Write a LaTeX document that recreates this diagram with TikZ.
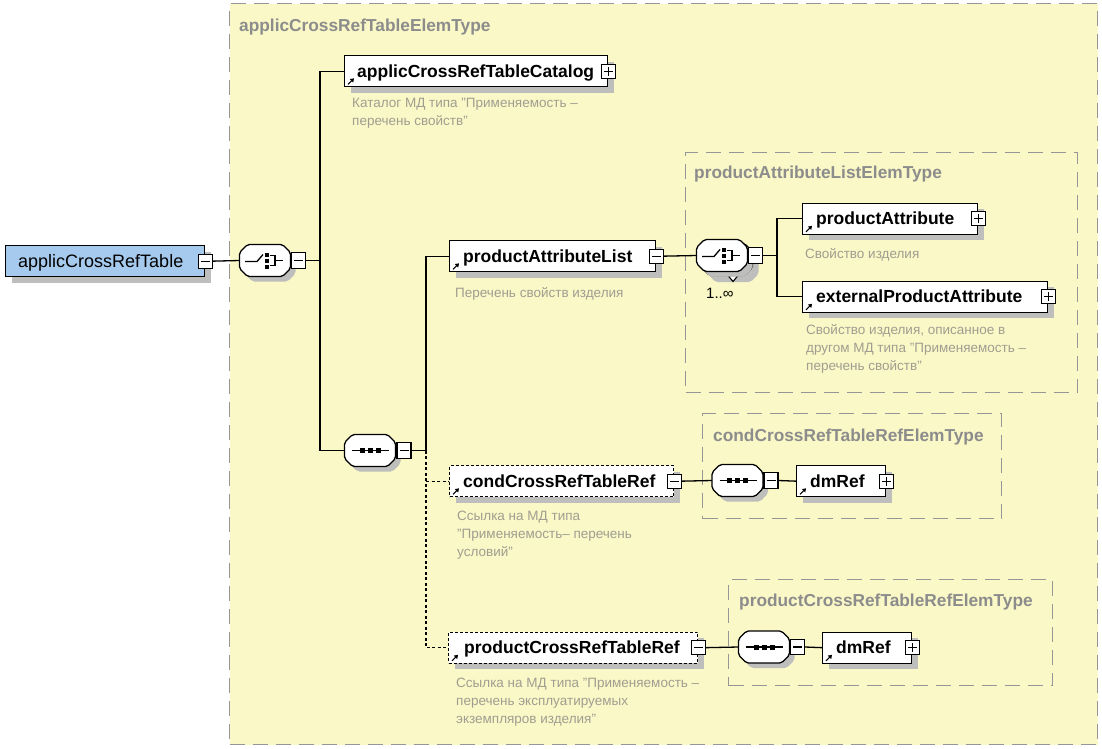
\documentclass[tikz,border=0pt]{standalone}
\usepackage{fontspec}
\setmainfont{Liberation Sans}
\usetikzlibrary{calc,arrows.meta}
\definecolor{yel}{RGB}{250,248,198}
\definecolor{rootblue}{RGB}{166,202,238}
\definecolor{shadowc}{RGB}{190,190,188}
\definecolor{typegray}{RGB}{140,140,140}
\definecolor{descgray}{RGB}{160,157,145}
\definecolor{typeframe}{RGB}{150,150,150}

\newcommand\octshape[3]{\path[#1] ({#2-17.5},{#3-16}) -- ({#2+17.5},{#3-16}) -- ({#2+25.5},{#3-8}) -- ({#2+25.5},{#3+8}) -- ({#2+17.5},{#3+16}) -- ({#2-17.5},{#3+16}) -- ({#2-25.5},{#3+8}) -- ({#2-25.5},{#3-8}) -- cycle;}
\newcommand\compositor[3]{%
  \octshape{fill=shadowc,rounded corners=2pt}{#2+5}{#3+5}
  \octshape{draw=black,fill=white,line width=1.3pt,rounded corners=2pt}{#2}{#3}
  \node[compnode] (#1) at (#2,#3) {};}
\newcommand\seqicon[2]{%
  \draw[line width=1.3pt] ({#1-18},#2) -- ({#1+19},#2);
  \foreach \dx in {-8,0,8} \fill ({#1+\dx-2.5},{#2-2.5}) rectangle ++(5,5);}
\newcommand\choiceicon[2]{%
  \draw[line width=1.3pt] ({#1-20},{#2+1}) -- ({#1-8},{#2+1}) -- ({#1-2},{#2-6});
  \foreach \dy in {-6,0,6} \fill ({#1+0.3},{#2+\dy-2}) rectangle ++(4,4);
  \draw[line width=1.3pt] ({#1+5},{#2-5}) -- ({#1+10},{#2-5}) -- ({#1+10},{#2+5}) -- ({#1+5},{#2+5}) ({#1+10},#2) -- ({#1+18},#2);}
\newcommand\refarr[1]{\draw[line width=1.1pt,-{Triangle[length=3.5pt,width=4.5pt]}] ($(#1.south west)+(4,-3)$) -- ($(#1.south west)+(10,-9)$);}

\begin{document}
\begin{tikzpicture}[x=1pt,y=-1pt,
  elem/.style={draw=black, fill=white, line width=1.3pt, inner sep=0pt, anchor=north west, minimum height=31pt,
    preaction={draw=none, fill=shadowc, transform canvas={shift={(6pt,-6pt)}}}},
  optelem/.style={elem, dash pattern=on 3pt off 2pt},
  rootel/.style={elem, fill=rootblue},
  compnode/.style={draw=none, minimum width=51pt, minimum height=32pt, inner sep=0pt},
  ellbl/.style={font=\fontsize{17.5}{20}\selectfont\bfseries, anchor=base west, inner sep=0pt},
  rootlbl/.style={font=\fontsize{18}{20}\selectfont, anchor=base west, inner sep=0pt},
  desc/.style={font=\fontsize{13.5}{18}\selectfont, text=descgray, anchor=base west, inner sep=0pt},
  typelbl/.style={font=\fontsize{17.3}{20}\selectfont\bfseries, text=typegray, anchor=base west, inner sep=0pt},
  typebox/.style={draw=typeframe, line width=1.4pt, dash pattern=on 15pt off 8pt, anchor=north west, inner sep=0pt},
  pmbox/.style={draw=black, fill=white, line width=1.2pt, minimum width=14pt, minimum height=14pt, inner sep=0pt},
  minusbox/.style={pmbox, path picture={\draw[line width=1.2pt] ([xshift=2.5pt]path picture bounding box.west) -- ([xshift=-2.5pt]path picture bounding box.east);}},
  plusbox/.style={pmbox, path picture={\draw[line width=1.2pt] ([xshift=2.5pt]path picture bounding box.west) -- ([xshift=-2.5pt]path picture bounding box.east) ([yshift=2.5pt]path picture bounding box.south) -- ([yshift=-2.5pt]path picture bounding box.north);}},
  cminusbox/.style={minusbox, minimum height=15.5pt},
  conn/.style={line width=1.3pt},
  optconn/.style={line width=1.3pt, dash pattern=on 3pt off 2.5pt}
]
\useasboundingbox (0,0) rectangle (1102,748);
\fill[white] (0,0) rectangle (1102,748);

% type frames
\node[typebox, fill=yel, minimum width=868pt, minimum height=741pt] (outer) at (229,3) {};
\node[typelbl] (outerl) at (239,31) {applicCrossRefTableElemType};
\node[typebox, minimum width=392pt, minimum height=240pt] (pale) at (685,152) {};
\node[typelbl] (palel) at (694,178) {productAttributeListElemType};
\node[typebox, minimum width=299pt, minimum height=105pt] (cct) at (702,413) {};
\node[typelbl] (cctl) at (713,441) {condCrossRefTableRefElemType};
\node[typebox, minimum width=324pt, minimum height=106pt] (pct) at (728,579) {};
\node[typelbl] (pctl) at (739,606) {productCrossRefTableRefElemType};

% root
\node[rootel, minimum width=199pt] (root) at (5,245) {};
\node[rootlbl] (roott) at ($(root.west)+(13,6)$) {applicCrossRefTable};
\node[minusbox] (rootm) at (root.east) {};

% choice 1
\compositor{ch1}{265}{260.5}
\choiceicon{265}{260.5}
\node[cminusbox] (ch1m) at (298.5,260.5) {};

% catalog
\node[elem, minimum width=263pt] (cat) at (344,55) {};
\node[ellbl] (catt) at ($(cat.west)+(13,6)$) {applicCrossRefTableCatalog};
\node[plusbox] (catp) at (cat.east) {};
\refarr{cat}
\node[desc] (catd1) at (352,107) {Каталог МД типа "Применяемость –};
\node[desc] (catd2) at (352,125) {перечень свойств"};

% sequence 1
\compositor{seq1}{370}{450.5}
\seqicon{370}{450.5}
\node[cminusbox] (seq1m) at (404,450.5) {};

% productAttributeList
\node[elem, minimum width=206pt] (pal) at (449,240) {};
\node[ellbl] (palt) at ($(pal.west)+(14,6)$) {productAttributeList};
\node[minusbox] (palm) at (pal.east) {};
\refarr{pal}
\node[desc] (pald1) at (455,297) {Перечень свойств изделия};

% choice 2 (1..inf)
\octshape{fill=shadowc,rounded corners=2pt}{733}{266}
\octshape{draw=black,fill=white,line width=1.3pt,rounded corners=2pt}{727}{259.5}
\draw[line width=1.1pt, fill=white] (728,275.5) -- (738,275.5) -- (733,281.5) -- cycle;
\compositor{ch2}{722}{255.5}
\choiceicon{722}{255.5}
\node[cminusbox] (ch2m) at (755.5,255.5) {};
\node[font=\fontsize{15}{18}\selectfont, anchor=base west, inner sep=0pt] (ch2occ) at (706,298) {1..∞};

% productAttribute
\node[elem, minimum width=175pt] (pa) at (802,202.5) {};
\node[ellbl] (pat) at ($(pa.west)+(14,6)$) {productAttribute};
\node[plusbox] (pap) at (pa.east) {};
\refarr{pa}
\node[desc] (pad1) at (805,258) {Свойство изделия};

% externalProductAttribute
\node[elem, minimum width=245pt] (epa) at (802,280.5) {};
\node[ellbl] (epat) at ($(epa.west)+(14,6)$) {externalProductAttribute};
\node[plusbox] (epap) at (epa.east) {};
\refarr{epa}
\node[desc] (epad1) at (806,334) {Свойство изделия, описанное в};
\node[desc] (epad2) at (806,352) {другом МД типа "Применяемость –};
\node[desc] (epad3) at (806,370) {перечень свойств"};

% condCrossRefTableRef
\node[optelem, minimum width=224pt] (cond) at (449,465) {};
\node[ellbl] (condt) at ($(cond.west)+(14,6)$) {condCrossRefTableRef};
\node[minusbox] (condm) at (cond.east) {};
\refarr{cond}
\node[desc] (condd1) at (457,520) {Ссылка на МД типа};
\node[desc] (condd2) at (457,538) {"Применяемость– перечень};
\node[desc] (condd3) at (457,556) {условий"};

\compositor{seq2}{737.5}{480.5}
\seqicon{737.5}{480.5}
\node[cminusbox] (seq2m) at (771,480.5) {};
\node[elem, minimum width=89pt] (dm1) at (796,465) {};
\node[ellbl] (dm1t) at ($(dm1.west)+(14,6)$) {dmRef};
\node[plusbox] (dm1p) at (dm1.east) {};
\refarr{dm1}

% productCrossRefTableRef
\node[optelem, minimum width=249pt] (pcr) at (448,631.5) {};
\node[ellbl] (pcrt) at ($(pcr.west)+(16,6)$) {productCrossRefTableRef};
\node[minusbox] (pcrm) at (pcr.east) {};
\refarr{pcr}
\node[desc] (pcrd1) at (456,687) {Ссылка на МД типа "Применяемость –};
\node[desc] (pcrd2) at (456,705) {перечень эксплуатируемых};
\node[desc] (pcrd3) at (456,723) {экземпляров изделия"};

\compositor{seq3}{764}{647}
\seqicon{764}{647}
\node[cminusbox] (seq3m) at (797.5,647) {};
\node[elem, minimum width=89pt] (dm2) at (822,631.5) {};
\node[ellbl] (dm2t) at ($(dm2.west)+(14,6)$) {dmRef};
\node[plusbox] (dm2p) at (dm2.east) {};
\refarr{dm2}

% connectors
\coordinate (j1) at (320,260.5);
\coordinate (j2) at (426,450.5);
\coordinate (j3) at (777,255.5);
\draw[conn] (rootm.east) -- (ch1.west);
\draw[conn] (ch1m.east) -- (j1);
\draw[conn] (cat.west) -| (j1) |- (seq1.west);
\draw[conn] (seq1m.east) -- (j2);
\draw[conn] (pal.west) -| (j2);
\draw[optconn] (j2) |- (pcr.west);
\draw[optconn] (cond.west -| j2) -- (cond.west);
\draw[conn] (palm.east) -- (ch2.west);
\draw[conn] (ch2m.east) -- (j3);
\draw[conn] (pa.west) -| (j3) |- (epa.west);
\draw[conn] (condm.east) -- (seq2.west);
\draw[conn] (seq2m.east) -- (dm1.west);
\draw[conn] (pcrm.east) -- (seq3.west);
\draw[conn] (seq3m.east) -- (dm2.west);
\end{tikzpicture}
\end{document}
